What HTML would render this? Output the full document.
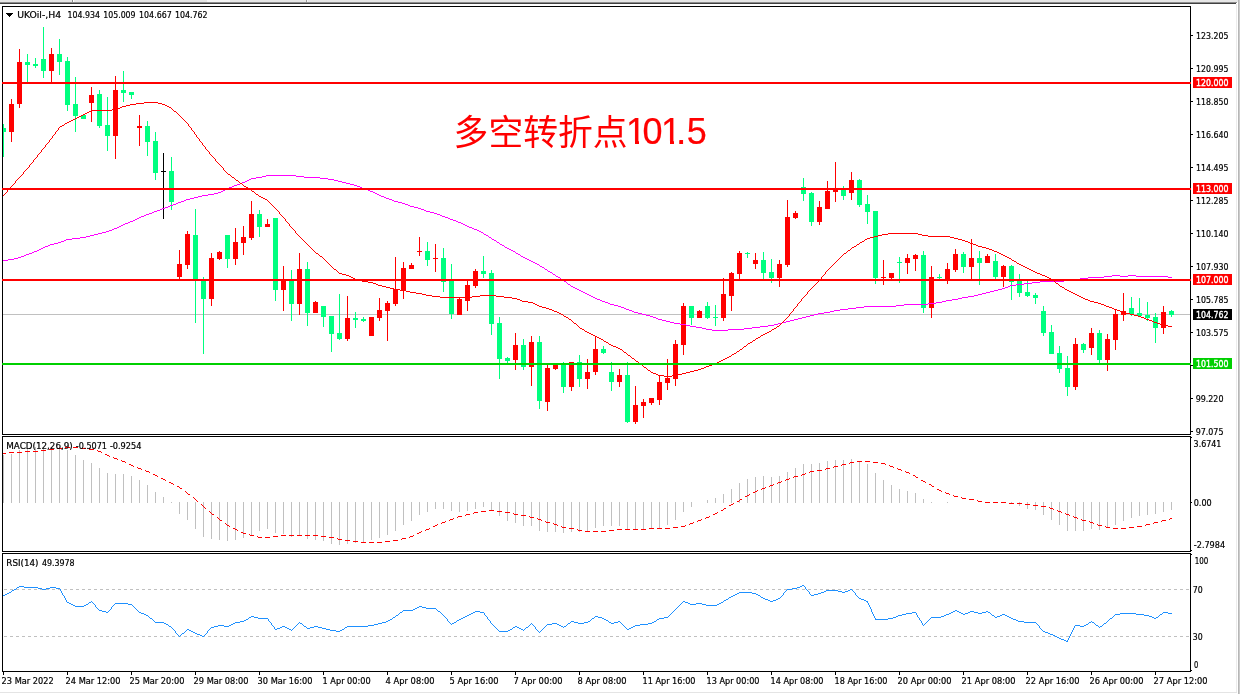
<!DOCTYPE html>
<html lang="zh"><head><meta charset="utf-8"><title>UKOil-,H4</title>
<style>
html,body{margin:0;padding:0;background:#fff;}
body{width:1240px;height:694px;overflow:hidden;position:relative;}
svg{position:absolute;left:0;top:0;display:block;}
text{font-family:"DejaVu Sans Condensed","DejaVu Sans","Liberation Sans",sans-serif;font-size:9px;fill:#000;stroke:#000;stroke-width:0.2px;}
text.t{stroke:none;font-family:"Liberation Sans","Noto Sans CJK SC",sans-serif;font-size:33.5px;fill:#ff0000;}
.w{fill:#fff;stroke:#fff;stroke-width:0.35px;}
</style></head><body>
<svg width="1240" height="694" viewBox="0 0 1240 694">
<rect x="0" y="0" width="1240" height="694" fill="#fff"/>
<g shape-rendering="crispEdges">
<rect x="0" y="0" width="1240" height="2" fill="#e6e6e6"/>
<rect x="0" y="2" width="1237" height="1" fill="#8c8c8c"/>
<rect x="0" y="3" width="1236" height="1" fill="#404040"/>
<rect x="72" y="0" width="1" height="2" fill="#8c8c8c"/><rect x="73" y="0" width="1" height="2" fill="#fff"/>
<rect x="306" y="0" width="1" height="2" fill="#9a9a9a"/><rect x="307" y="0" width="1" height="2" fill="#f4f4f4"/>
<rect x="207" y="0" width="23" height="2" fill="#f6f6f6"/>
<rect x="1236" y="4" width="1" height="688" fill="#ececec"/>
<rect x="1238" y="0" width="1" height="694" fill="#b6b6b6"/><rect x="1239" y="0" width="1" height="694" fill="#cccccc"/>
<rect x="0" y="692" width="1237" height="1" fill="#e4e4e4"/>
</g>
<g shape-rendering="crispEdges">
<rect x="3" y="314" width="1187" height="1" fill="#c0c0c0"/>
<rect x="3" y="124" width="1" height="33" fill="#00ff7f"/>
<rect x="3" y="128" width="3" height="4" fill="#00ff7f"/>
<rect x="11" y="99" width="1" height="43" fill="#ff0000"/>
<rect x="9" y="104" width="5" height="28" fill="#ff0000"/>
<rect x="19" y="49" width="1" height="59" fill="#ff0000"/>
<rect x="17" y="62" width="5" height="42" fill="#ff0000"/>
<rect x="27" y="54" width="1" height="29" fill="#00ff7f"/>
<rect x="25" y="62" width="5" height="3" fill="#00ff7f"/>
<rect x="35" y="58" width="1" height="10" fill="#00ff7f"/>
<rect x="33" y="64" width="5" height="2" fill="#00ff7f"/>
<rect x="43" y="27" width="1" height="51" fill="#00ff7f"/>
<rect x="41" y="59" width="5" height="12" fill="#00ff7f"/>
<rect x="51" y="48" width="1" height="35" fill="#ff0000"/>
<rect x="49" y="54" width="5" height="17" fill="#ff0000"/>
<rect x="59" y="39" width="1" height="36" fill="#00ff7f"/>
<rect x="57" y="54" width="5" height="8" fill="#00ff7f"/>
<rect x="67" y="57" width="1" height="54" fill="#00ff7f"/>
<rect x="65" y="61" width="5" height="44" fill="#00ff7f"/>
<rect x="75" y="77" width="1" height="55" fill="#00ff7f"/>
<rect x="73" y="104" width="5" height="12" fill="#00ff7f"/>
<rect x="83" y="115" width="1" height="4" fill="#00ff7f"/>
<rect x="81" y="115" width="5" height="4" fill="#00ff7f"/>
<rect x="91" y="87" width="1" height="35" fill="#ff0000"/>
<rect x="89" y="95" width="5" height="8" fill="#ff0000"/>
<rect x="99" y="90" width="1" height="38" fill="#00ff7f"/>
<rect x="97" y="94" width="5" height="32" fill="#00ff7f"/>
<rect x="107" y="97" width="1" height="54" fill="#00ff7f"/>
<rect x="105" y="125" width="5" height="11" fill="#00ff7f"/>
<rect x="115" y="76" width="1" height="83" fill="#ff0000"/>
<rect x="113" y="90" width="5" height="46" fill="#ff0000"/>
<rect x="123" y="71" width="1" height="31" fill="#00ff7f"/>
<rect x="121" y="90" width="5" height="3" fill="#00ff7f"/>
<rect x="131" y="92" width="1" height="7" fill="#00ff7f"/>
<rect x="129" y="92" width="5" height="3" fill="#00ff7f"/>
<rect x="139" y="115" width="1" height="31" fill="#ff0000"/>
<rect x="137" y="126" width="5" height="2" fill="#ff0000"/>
<rect x="147" y="121" width="1" height="35" fill="#00ff7f"/>
<rect x="145" y="126" width="5" height="16" fill="#00ff7f"/>
<rect x="155" y="132" width="1" height="48" fill="#00ff7f"/>
<rect x="153" y="141" width="5" height="32" fill="#00ff7f"/>
<rect x="163" y="153" width="1" height="66" fill="#000"/>
<rect x="161" y="171" width="5" height="1" fill="#000"/>
<rect x="171" y="157" width="1" height="53" fill="#00ff7f"/>
<rect x="169" y="171" width="5" height="31" fill="#00ff7f"/>
<rect x="179" y="250" width="1" height="30" fill="#ff0000"/>
<rect x="177" y="264" width="5" height="13" fill="#ff0000"/>
<rect x="187" y="231" width="1" height="38" fill="#ff0000"/>
<rect x="185" y="234" width="5" height="31" fill="#ff0000"/>
<rect x="195" y="209" width="1" height="114" fill="#00ff7f"/>
<rect x="193" y="235" width="5" height="45" fill="#00ff7f"/>
<rect x="203" y="277" width="1" height="77" fill="#00ff7f"/>
<rect x="201" y="281" width="5" height="18" fill="#00ff7f"/>
<rect x="211" y="253" width="1" height="53" fill="#ff0000"/>
<rect x="209" y="258" width="5" height="41" fill="#ff0000"/>
<rect x="219" y="251" width="1" height="9" fill="#ff0000"/>
<rect x="217" y="252" width="5" height="7" fill="#ff0000"/>
<rect x="227" y="235" width="1" height="33" fill="#00ff7f"/>
<rect x="225" y="235" width="5" height="24" fill="#00ff7f"/>
<rect x="235" y="228" width="1" height="37" fill="#ff0000"/>
<rect x="233" y="242" width="5" height="17" fill="#ff0000"/>
<rect x="243" y="226" width="1" height="29" fill="#ff0000"/>
<rect x="241" y="237" width="5" height="6" fill="#ff0000"/>
<rect x="251" y="201" width="1" height="39" fill="#ff0000"/>
<rect x="249" y="214" width="5" height="24" fill="#ff0000"/>
<rect x="259" y="210" width="1" height="27" fill="#00ff7f"/>
<rect x="257" y="214" width="5" height="13" fill="#00ff7f"/>
<rect x="267" y="219" width="1" height="8" fill="#ff0000"/>
<rect x="265" y="224" width="5" height="3" fill="#ff0000"/>
<rect x="275" y="218" width="1" height="83" fill="#00ff7f"/>
<rect x="273" y="218" width="5" height="72" fill="#00ff7f"/>
<rect x="283" y="266" width="1" height="45" fill="#ff0000"/>
<rect x="281" y="280" width="5" height="10" fill="#ff0000"/>
<rect x="291" y="270" width="1" height="51" fill="#00ff7f"/>
<rect x="289" y="281" width="5" height="23" fill="#00ff7f"/>
<rect x="299" y="253" width="1" height="62" fill="#ff0000"/>
<rect x="297" y="269" width="5" height="35" fill="#ff0000"/>
<rect x="307" y="262" width="1" height="64" fill="#00ff7f"/>
<rect x="305" y="269" width="5" height="44" fill="#00ff7f"/>
<rect x="315" y="301" width="1" height="12" fill="#ff0000"/>
<rect x="313" y="302" width="5" height="11" fill="#ff0000"/>
<rect x="323" y="306" width="1" height="21" fill="#00ff7f"/>
<rect x="321" y="306" width="5" height="11" fill="#00ff7f"/>
<rect x="331" y="316" width="1" height="36" fill="#00ff7f"/>
<rect x="329" y="316" width="5" height="18" fill="#00ff7f"/>
<rect x="339" y="294" width="1" height="46" fill="#00ff7f"/>
<rect x="337" y="333" width="5" height="6" fill="#00ff7f"/>
<rect x="347" y="296" width="1" height="45" fill="#ff0000"/>
<rect x="345" y="318" width="5" height="21" fill="#ff0000"/>
<rect x="355" y="312" width="1" height="16" fill="#00ff7f"/>
<rect x="353" y="318" width="5" height="2" fill="#00ff7f"/>
<rect x="363" y="317" width="1" height="5" fill="#00ff7f"/>
<rect x="361" y="319" width="5" height="2" fill="#00ff7f"/>
<rect x="371" y="317" width="1" height="19" fill="#ff0000"/>
<rect x="369" y="317" width="5" height="19" fill="#ff0000"/>
<rect x="379" y="298" width="1" height="23" fill="#ff0000"/>
<rect x="377" y="310" width="5" height="8" fill="#ff0000"/>
<rect x="387" y="301" width="1" height="40" fill="#ff0000"/>
<rect x="385" y="303" width="5" height="8" fill="#ff0000"/>
<rect x="395" y="257" width="1" height="49" fill="#ff0000"/>
<rect x="393" y="289" width="5" height="15" fill="#ff0000"/>
<rect x="403" y="262" width="1" height="37" fill="#ff0000"/>
<rect x="401" y="268" width="5" height="23" fill="#ff0000"/>
<rect x="411" y="263" width="1" height="6" fill="#ff0000"/>
<rect x="409" y="265" width="5" height="4" fill="#ff0000"/>
<rect x="419" y="237" width="1" height="19" fill="#ff0000"/>
<rect x="417" y="251" width="5" height="1" fill="#ff0000"/>
<rect x="427" y="242" width="1" height="24" fill="#00ff7f"/>
<rect x="425" y="251" width="5" height="9" fill="#00ff7f"/>
<rect x="435" y="244" width="1" height="28" fill="#ff0000"/>
<rect x="433" y="258" width="5" height="1" fill="#ff0000"/>
<rect x="443" y="248" width="1" height="44" fill="#00ff7f"/>
<rect x="441" y="258" width="5" height="24" fill="#00ff7f"/>
<rect x="451" y="264" width="1" height="55" fill="#00ff7f"/>
<rect x="449" y="280" width="5" height="34" fill="#00ff7f"/>
<rect x="459" y="298" width="1" height="17" fill="#ff0000"/>
<rect x="457" y="299" width="5" height="16" fill="#ff0000"/>
<rect x="467" y="281" width="1" height="30" fill="#ff0000"/>
<rect x="465" y="285" width="5" height="16" fill="#ff0000"/>
<rect x="475" y="269" width="1" height="19" fill="#ff0000"/>
<rect x="473" y="271" width="5" height="15" fill="#ff0000"/>
<rect x="483" y="256" width="1" height="22" fill="#00ff7f"/>
<rect x="481" y="271" width="5" height="3" fill="#00ff7f"/>
<rect x="491" y="270" width="1" height="65" fill="#00ff7f"/>
<rect x="489" y="273" width="5" height="51" fill="#00ff7f"/>
<rect x="499" y="317" width="1" height="62" fill="#00ff7f"/>
<rect x="497" y="323" width="5" height="36" fill="#00ff7f"/>
<rect x="507" y="357" width="1" height="6" fill="#00ff7f"/>
<rect x="505" y="358" width="5" height="3" fill="#00ff7f"/>
<rect x="515" y="333" width="1" height="37" fill="#ff0000"/>
<rect x="513" y="345" width="5" height="15" fill="#ff0000"/>
<rect x="523" y="339" width="1" height="31" fill="#00ff7f"/>
<rect x="521" y="345" width="5" height="22" fill="#00ff7f"/>
<rect x="531" y="336" width="1" height="50" fill="#ff0000"/>
<rect x="529" y="342" width="5" height="25" fill="#ff0000"/>
<rect x="539" y="336" width="1" height="73" fill="#00ff7f"/>
<rect x="537" y="342" width="5" height="59" fill="#00ff7f"/>
<rect x="547" y="365" width="1" height="46" fill="#ff0000"/>
<rect x="545" y="368" width="5" height="34" fill="#ff0000"/>
<rect x="555" y="363" width="1" height="7" fill="#ff0000"/>
<rect x="553" y="363" width="5" height="6" fill="#ff0000"/>
<rect x="563" y="362" width="1" height="31" fill="#00ff7f"/>
<rect x="561" y="363" width="5" height="24" fill="#00ff7f"/>
<rect x="571" y="362" width="1" height="29" fill="#ff0000"/>
<rect x="569" y="362" width="5" height="25" fill="#ff0000"/>
<rect x="579" y="355" width="1" height="32" fill="#00ff7f"/>
<rect x="577" y="362" width="5" height="17" fill="#00ff7f"/>
<rect x="587" y="359" width="1" height="30" fill="#ff0000"/>
<rect x="585" y="372" width="5" height="7" fill="#ff0000"/>
<rect x="595" y="336" width="1" height="39" fill="#ff0000"/>
<rect x="593" y="349" width="5" height="23" fill="#ff0000"/>
<rect x="603" y="346" width="1" height="8" fill="#00ff7f"/>
<rect x="601" y="349" width="5" height="4" fill="#00ff7f"/>
<rect x="611" y="362" width="1" height="29" fill="#00ff7f"/>
<rect x="609" y="372" width="5" height="10" fill="#00ff7f"/>
<rect x="619" y="369" width="1" height="18" fill="#ff0000"/>
<rect x="617" y="375" width="5" height="7" fill="#ff0000"/>
<rect x="627" y="362" width="1" height="61" fill="#00ff7f"/>
<rect x="625" y="375" width="5" height="47" fill="#00ff7f"/>
<rect x="635" y="386" width="1" height="38" fill="#ff0000"/>
<rect x="633" y="405" width="5" height="17" fill="#ff0000"/>
<rect x="643" y="399" width="1" height="19" fill="#ff0000"/>
<rect x="641" y="402" width="5" height="4" fill="#ff0000"/>
<rect x="651" y="398" width="1" height="7" fill="#ff0000"/>
<rect x="649" y="398" width="5" height="5" fill="#ff0000"/>
<rect x="659" y="375" width="1" height="30" fill="#ff0000"/>
<rect x="657" y="382" width="5" height="18" fill="#ff0000"/>
<rect x="667" y="359" width="1" height="31" fill="#ff0000"/>
<rect x="665" y="378" width="5" height="5" fill="#ff0000"/>
<rect x="675" y="340" width="1" height="46" fill="#ff0000"/>
<rect x="673" y="344" width="5" height="35" fill="#ff0000"/>
<rect x="683" y="303" width="1" height="52" fill="#ff0000"/>
<rect x="681" y="306" width="5" height="39" fill="#ff0000"/>
<rect x="691" y="306" width="1" height="19" fill="#00ff7f"/>
<rect x="689" y="306" width="5" height="12" fill="#00ff7f"/>
<rect x="699" y="310" width="1" height="8" fill="#ff0000"/>
<rect x="697" y="311" width="5" height="7" fill="#ff0000"/>
<rect x="707" y="302" width="1" height="17" fill="#00ff7f"/>
<rect x="705" y="306" width="5" height="12" fill="#00ff7f"/>
<rect x="715" y="305" width="1" height="21" fill="#00ff7f"/>
<rect x="713" y="317" width="5" height="1" fill="#00ff7f"/>
<rect x="723" y="278" width="1" height="43" fill="#ff0000"/>
<rect x="721" y="294" width="5" height="24" fill="#ff0000"/>
<rect x="731" y="272" width="1" height="39" fill="#ff0000"/>
<rect x="729" y="273" width="5" height="23" fill="#ff0000"/>
<rect x="739" y="251" width="1" height="28" fill="#ff0000"/>
<rect x="737" y="253" width="5" height="21" fill="#ff0000"/>
<rect x="747" y="252" width="1" height="6" fill="#00ff7f"/>
<rect x="745" y="253" width="5" height="1" fill="#00ff7f"/>
<rect x="755" y="253" width="1" height="16" fill="#ff0000"/>
<rect x="753" y="260" width="5" height="4" fill="#ff0000"/>
<rect x="763" y="252" width="1" height="27" fill="#00ff7f"/>
<rect x="761" y="260" width="5" height="13" fill="#00ff7f"/>
<rect x="771" y="259" width="1" height="24" fill="#00ff7f"/>
<rect x="769" y="272" width="5" height="6" fill="#00ff7f"/>
<rect x="779" y="260" width="1" height="27" fill="#ff0000"/>
<rect x="777" y="264" width="5" height="14" fill="#ff0000"/>
<rect x="787" y="200" width="1" height="67" fill="#ff0000"/>
<rect x="785" y="217" width="5" height="48" fill="#ff0000"/>
<rect x="795" y="211" width="1" height="8" fill="#ff0000"/>
<rect x="793" y="213" width="5" height="5" fill="#ff0000"/>
<rect x="803" y="178" width="1" height="23" fill="#00ff7f"/>
<rect x="801" y="187" width="5" height="7" fill="#00ff7f"/>
<rect x="811" y="192" width="1" height="34" fill="#00ff7f"/>
<rect x="809" y="193" width="5" height="29" fill="#00ff7f"/>
<rect x="819" y="201" width="1" height="24" fill="#ff0000"/>
<rect x="817" y="207" width="5" height="15" fill="#ff0000"/>
<rect x="827" y="181" width="1" height="28" fill="#ff0000"/>
<rect x="825" y="191" width="5" height="18" fill="#ff0000"/>
<rect x="835" y="162" width="1" height="40" fill="#ff0000"/>
<rect x="833" y="188" width="5" height="4" fill="#ff0000"/>
<rect x="843" y="186" width="1" height="14" fill="#00ff7f"/>
<rect x="841" y="190" width="5" height="6" fill="#00ff7f"/>
<rect x="851" y="172" width="1" height="28" fill="#ff0000"/>
<rect x="849" y="180" width="5" height="13" fill="#ff0000"/>
<rect x="859" y="179" width="1" height="28" fill="#00ff7f"/>
<rect x="857" y="180" width="5" height="25" fill="#00ff7f"/>
<rect x="867" y="195" width="1" height="29" fill="#00ff7f"/>
<rect x="865" y="204" width="5" height="8" fill="#00ff7f"/>
<rect x="875" y="211" width="1" height="73" fill="#00ff7f"/>
<rect x="873" y="211" width="5" height="67" fill="#00ff7f"/>
<rect x="883" y="260" width="1" height="25" fill="#ff0000"/>
<rect x="881" y="277" width="5" height="1" fill="#ff0000"/>
<rect x="891" y="273" width="1" height="7" fill="#ff0000"/>
<rect x="889" y="273" width="5" height="5" fill="#ff0000"/>
<rect x="899" y="257" width="1" height="26" fill="#00ff7f"/>
<rect x="897" y="262" width="5" height="1" fill="#00ff7f"/>
<rect x="907" y="254" width="1" height="20" fill="#ff0000"/>
<rect x="905" y="258" width="5" height="5" fill="#ff0000"/>
<rect x="915" y="254" width="1" height="17" fill="#ff0000"/>
<rect x="913" y="255" width="5" height="4" fill="#ff0000"/>
<rect x="923" y="251" width="1" height="62" fill="#00ff7f"/>
<rect x="921" y="255" width="5" height="53" fill="#00ff7f"/>
<rect x="931" y="266" width="1" height="52" fill="#ff0000"/>
<rect x="929" y="277" width="5" height="31" fill="#ff0000"/>
<rect x="939" y="274" width="1" height="6" fill="#00ff7f"/>
<rect x="937" y="277" width="5" height="1" fill="#00ff7f"/>
<rect x="947" y="263" width="1" height="21" fill="#ff0000"/>
<rect x="945" y="269" width="5" height="10" fill="#ff0000"/>
<rect x="955" y="249" width="1" height="23" fill="#ff0000"/>
<rect x="953" y="254" width="5" height="16" fill="#ff0000"/>
<rect x="963" y="252" width="1" height="21" fill="#00ff7f"/>
<rect x="961" y="254" width="5" height="13" fill="#00ff7f"/>
<rect x="971" y="239" width="1" height="40" fill="#ff0000"/>
<rect x="969" y="258" width="5" height="9" fill="#ff0000"/>
<rect x="979" y="251" width="1" height="34" fill="#00ff7f"/>
<rect x="977" y="258" width="5" height="5" fill="#00ff7f"/>
<rect x="987" y="254" width="1" height="9" fill="#ff0000"/>
<rect x="985" y="256" width="5" height="7" fill="#ff0000"/>
<rect x="995" y="254" width="1" height="25" fill="#00ff7f"/>
<rect x="993" y="261" width="5" height="16" fill="#00ff7f"/>
<rect x="1003" y="265" width="1" height="22" fill="#ff0000"/>
<rect x="1001" y="266" width="5" height="11" fill="#ff0000"/>
<rect x="1011" y="265" width="1" height="35" fill="#00ff7f"/>
<rect x="1009" y="266" width="5" height="16" fill="#00ff7f"/>
<rect x="1019" y="274" width="1" height="23" fill="#00ff7f"/>
<rect x="1017" y="280" width="5" height="13" fill="#00ff7f"/>
<rect x="1027" y="281" width="1" height="16" fill="#00ff7f"/>
<rect x="1025" y="292" width="5" height="4" fill="#00ff7f"/>
<rect x="1035" y="293" width="1" height="11" fill="#00ff7f"/>
<rect x="1033" y="295" width="5" height="3" fill="#00ff7f"/>
<rect x="1043" y="306" width="1" height="30" fill="#00ff7f"/>
<rect x="1041" y="311" width="5" height="22" fill="#00ff7f"/>
<rect x="1051" y="325" width="1" height="29" fill="#00ff7f"/>
<rect x="1049" y="332" width="5" height="22" fill="#00ff7f"/>
<rect x="1059" y="346" width="1" height="27" fill="#00ff7f"/>
<rect x="1057" y="353" width="5" height="16" fill="#00ff7f"/>
<rect x="1067" y="356" width="1" height="40" fill="#00ff7f"/>
<rect x="1065" y="368" width="5" height="19" fill="#00ff7f"/>
<rect x="1075" y="338" width="1" height="52" fill="#ff0000"/>
<rect x="1073" y="344" width="5" height="43" fill="#ff0000"/>
<rect x="1083" y="343" width="1" height="10" fill="#00ff7f"/>
<rect x="1081" y="344" width="5" height="6" fill="#00ff7f"/>
<rect x="1091" y="328" width="1" height="27" fill="#ff0000"/>
<rect x="1089" y="333" width="5" height="15" fill="#ff0000"/>
<rect x="1099" y="330" width="1" height="33" fill="#00ff7f"/>
<rect x="1097" y="333" width="5" height="27" fill="#00ff7f"/>
<rect x="1107" y="334" width="1" height="37" fill="#ff0000"/>
<rect x="1105" y="339" width="5" height="21" fill="#ff0000"/>
<rect x="1115" y="309" width="1" height="41" fill="#ff0000"/>
<rect x="1113" y="314" width="5" height="26" fill="#ff0000"/>
<rect x="1123" y="293" width="1" height="28" fill="#ff0000"/>
<rect x="1121" y="311" width="5" height="4" fill="#ff0000"/>
<rect x="1131" y="297" width="1" height="19" fill="#00ff7f"/>
<rect x="1129" y="308" width="5" height="6" fill="#00ff7f"/>
<rect x="1139" y="298" width="1" height="19" fill="#00ff7f"/>
<rect x="1137" y="313" width="5" height="3" fill="#00ff7f"/>
<rect x="1147" y="302" width="1" height="19" fill="#00ff7f"/>
<rect x="1145" y="315" width="5" height="3" fill="#00ff7f"/>
<rect x="1155" y="313" width="1" height="30" fill="#00ff7f"/>
<rect x="1153" y="317" width="5" height="11" fill="#00ff7f"/>
<rect x="1163" y="306" width="1" height="28" fill="#ff0000"/>
<rect x="1161" y="312" width="5" height="16" fill="#ff0000"/>
<rect x="1171" y="310" width="1" height="7" fill="#00ff7f"/>
<rect x="1169" y="311" width="5" height="4" fill="#00ff7f"/>
</g>
<g shape-rendering="crispEdges">
<path d="M266 175.5h30M262 176.5h4M296 176.5h8M256 177.5h6M304 177.5h16M251 178.5h5M320 178.5h8M249 179.5h2M328 179.5h6M247 180.5h2M334 180.5h4M245 181.5h2M338 181.5h4M242 182.5h3M342 182.5h4M240 183.5h2M346 183.5h4M237 184.5h3M350 184.5h4M234 185.5h3M354 185.5h3M232 186.5h2M357 186.5h3M229 187.5h3M360 187.5h2M227 188.5h2M362 188.5h3M225 189.5h2M365 189.5h3M223 190.5h2M368 190.5h2M221 191.5h2M370 191.5h3M218 192.5h3M373 192.5h2M214 193.5h4M375 193.5h2M208 194.5h6M377 194.5h2M202 195.5h6M379 195.5h2M198 196.5h4M381 196.5h3M194 197.5h4M384 197.5h2M190 198.5h4M386 198.5h3M186 199.5h4M389 199.5h3M184 200.5h2M392 200.5h2M181 201.5h3M394 201.5h4M178 202.5h3M398 202.5h4M176 203.5h2M402 203.5h3M173 204.5h3M405 204.5h3M170 205.5h3M408 205.5h2M168 206.5h2M410 206.5h4M165 207.5h3M414 207.5h4M162 208.5h3M418 208.5h3M160 209.5h2M421 209.5h3M157 210.5h3M424 210.5h2M154 211.5h3M426 211.5h4M152 212.5h2M430 212.5h4M149 213.5h3M434 213.5h3M146 214.5h3M437 214.5h3M144 215.5h2M440 215.5h2M141 216.5h3M442 216.5h3M139 217.5h2M445 217.5h3M137 218.5h2M448 218.5h2M135 219.5h2M450 219.5h3M133 220.5h2M453 220.5h3M130 221.5h3M456 221.5h2M128 222.5h2M458 222.5h3M125 223.5h3M461 223.5h2M123 224.5h2M463 224.5h2M121 225.5h2M465 225.5h2M119 226.5h2M467 226.5h2M117 227.5h2M469 227.5h3M114 228.5h3M472 228.5h2M112 229.5h2M474 229.5h3M109 230.5h3M477 230.5h2M106 231.5h3M479 231.5h2M102 232.5h4M481 232.5h2M98 233.5h4M483 233.5h1M94 234.5h4M484 234.5h2M90 235.5h4M486 235.5h2M86 236.5h4M488 236.5h1M80 237.5h6M489 237.5h2M72 238.5h8M491 238.5h1M66 239.5h6M492 239.5h2M64 240.5h2M494 240.5h2M61 241.5h3M496 241.5h1M58 242.5h3M497 242.5h2M54 243.5h4M499 243.5h1M50 244.5h4M500 244.5h2M48 245.5h2M502 245.5h2M45 246.5h3M504 246.5h1M43 247.5h2M505 247.5h2M41 248.5h2M507 248.5h2M39 249.5h2M509 249.5h2M37 250.5h2M511 250.5h2M34 251.5h3M513 251.5h2M32 252.5h2M515 252.5h1M29 253.5h3M516 253.5h2M26 254.5h3M518 254.5h2M24 255.5h2M520 255.5h1M21 256.5h3M521 256.5h2M18 257.5h3M523 257.5h2M14 258.5h4M525 258.5h2M8 259.5h6M527 259.5h2M3 260.5h5M529 260.5h2M531 261.5h2M533 262.5h2M535 263.5h2M537 264.5h2M539 265.5h1M540 266.5h2M542 267.5h2M544 268.5h1M545 269.5h2M547 270.5h1M548 271.5h2M550 272.5h2M552 273.5h1M553 274.5h2M555 275.5h1M1112 275.5h8M1128 275.5h8M556 276.5h2M1104 276.5h8M1120 276.5h8M1136 276.5h32M558 277.5h2M1088 277.5h16M1168 277.5h4M560 278.5h1M1080 278.5h8M561 279.5h2M1072 279.5h8M563 280.5h1M1064 280.5h8M564 281.5h2M1040 281.5h24M566 282.5h1M1032 282.5h8M567 283.5h1M1024 283.5h8M568 284.5h2M1016 284.5h8M570 285.5h1M1010 285.5h6M571 286.5h2M1008 286.5h2M573 287.5h2M1005 287.5h3M575 288.5h2M1002 288.5h3M577 289.5h2M998 289.5h4M579 290.5h2M994 290.5h4M581 291.5h2M990 291.5h4M583 292.5h2M986 292.5h4M585 293.5h2M982 293.5h4M587 294.5h2M978 294.5h4M589 295.5h2M974 295.5h4M591 296.5h2M968 296.5h6M593 297.5h2M962 297.5h6M595 298.5h2M958 298.5h4M597 299.5h3M952 299.5h6M600 300.5h2M946 300.5h6M602 301.5h3M942 301.5h4M605 302.5h3M936 302.5h6M608 303.5h2M928 303.5h8M610 304.5h4M904 304.5h24M614 305.5h4M896 305.5h8M618 306.5h3M864 306.5h32M621 307.5h3M856 307.5h8M624 308.5h2M848 308.5h8M626 309.5h3M840 309.5h8M629 310.5h3M834 310.5h6M632 311.5h2M830 311.5h4M634 312.5h4M824 312.5h6M638 313.5h4M818 313.5h6M642 314.5h4M814 314.5h4M646 315.5h4M810 315.5h4M650 316.5h3M806 316.5h4M653 317.5h3M802 317.5h4M656 318.5h2M798 318.5h4M658 319.5h4M794 319.5h4M662 320.5h4M790 320.5h4M666 321.5h4M786 321.5h4M670 322.5h4M782 322.5h4M674 323.5h6M778 323.5h4M680 324.5h6M774 324.5h4M686 325.5h4M768 325.5h6M690 326.5h6M760 326.5h8M696 327.5h6M752 327.5h8M702 328.5h4M744 328.5h8M706 329.5h6M728 329.5h16M712 330.5h16" fill="none" stroke="#ff00ff" stroke-width="1"/>
<path d="M144 102.5h14M136 103.5h8M158 103.5h4M130 104.5h6M162 104.5h3M126 105.5h4M165 105.5h2M122 106.5h4M167 106.5h2M120 107.5h2M169 107.5h2M117 108.5h3M171 108.5h1M112 109.5h5M172 109.5h1M91 110.5h21M173 110.5h1M89 111.5h2M174 111.5h2M87 112.5h2M176 112.5h1M85 113.5h2M177 113.5h1M83 114.5h2M178 114.5h1M81 115.5h2M179 115.5h1M79 116.5h2M180 116.5h1M77 117.5h2M181 117.5h1M75 118.5h2M182 118.5h1M73 119.5h2M183 119.5h1M71 120.5h2M184 120.5h1M69 121.5h2M185 121.5h1M67 122.5h2M186 122.5h1M65 123.5h2M187 123.5h1M64 124.5h1M188.5 124v2M62 125.5h2M60 126.5h2M189 126.5h1M59 127.5h1M190 127.5h1M58.5 128v2M191.5 128v2M57 130.5h1M192 130.5h1M56 131.5h1M193 131.5h1M55.5 132v2M194.5 132v2M54 134.5h1M195 134.5h1M53 135.5h1M196.5 135v2M52.5 136v2M197 137.5h1M51 138.5h1M198 138.5h1M50 139.5h1M199.5 139v2M49.5 140v2M200 141.5h1M48 142.5h1M201 142.5h1M47 143.5h1M202.5 143v2M46 144.5h1M45.5 145v2M203 145.5h1M204 146.5h1M44 147.5h1M205.5 147v2M43 148.5h1M42 149.5h1M206 149.5h1M41.5 150v2M207 150.5h1M208 151.5h1M40 152.5h1M209.5 152v2M39 153.5h1M38 154.5h1M210 154.5h1M37.5 155v2M211 155.5h1M212 156.5h1M36 157.5h1M213 157.5h1M35 158.5h1M214 158.5h1M34 159.5h1M215.5 159v2M33.5 160v2M216 161.5h1M32 162.5h1M217 162.5h1M31 163.5h1M218 163.5h1M30 164.5h1M219 164.5h1M29.5 165v2M220 165.5h1M221 166.5h1M28 167.5h1M222 167.5h1M27 168.5h1M223.5 168v2M26 169.5h1M25 170.5h1M224 170.5h1M24 171.5h1M225 171.5h1M23.5 172v2M226 172.5h1M227 173.5h1M22 174.5h1M228 174.5h2M21 175.5h1M230 175.5h1M20 176.5h1M231 176.5h1M19 177.5h1M232 177.5h2M18 178.5h1M234 178.5h1M17 179.5h1M235 179.5h1M16 180.5h1M236 180.5h2M15.5 181v2M238 181.5h1M239 182.5h1M14 183.5h1M240 183.5h2M13 184.5h1M242 184.5h1M12 185.5h1M243 185.5h1M11 186.5h1M244 186.5h2M10 187.5h1M246 187.5h2M9 188.5h1M248 188.5h1M8 189.5h1M249 189.5h2M7.5 190v2M251 190.5h1M252 191.5h2M6 192.5h1M254 192.5h1M5 193.5h1M255 193.5h1M4 194.5h1M256 194.5h2M3 195.5h1M258 195.5h1M259 196.5h2M261 197.5h2M263 198.5h2M265 199.5h2M267 200.5h1M268 201.5h1M269 202.5h1M270 203.5h1M271 204.5h1M272 205.5h1M273 206.5h1M274 207.5h1M275 208.5h1M276 209.5h1M277 210.5h1M278 211.5h1M279.5 212v2M280 214.5h1M281 215.5h1M282 216.5h1M283 217.5h1M284 218.5h1M285.5 219v2M286 221.5h1M287 222.5h1M288 223.5h1M289.5 224v2M290 226.5h1M291 227.5h1M292 228.5h1M293 229.5h1M294 230.5h1M295.5 231v2M296 233.5h1M888 233.5h30M297 234.5h1M882 234.5h6M918 234.5h4M298 235.5h1M878 235.5h4M922 235.5h6M299 236.5h1M874 236.5h4M928 236.5h22M300 237.5h1M870 237.5h4M950 237.5h4M301 238.5h1M867 238.5h3M954 238.5h4M302 239.5h1M865 239.5h2M958 239.5h4M303 240.5h1M864 240.5h1M962 240.5h3M304 241.5h1M862 241.5h2M965 241.5h3M305 242.5h1M860 242.5h2M968 242.5h2M306 243.5h1M859 243.5h1M970 243.5h3M307 244.5h1M857 244.5h2M973 244.5h3M308 245.5h1M856 245.5h1M976 245.5h2M309 246.5h1M854 246.5h2M978 246.5h4M310 247.5h1M852 247.5h2M982 247.5h4M311 248.5h1M851 248.5h1M986 248.5h3M312 249.5h1M850 249.5h1M989 249.5h3M313 250.5h1M848 250.5h2M992 250.5h2M314 251.5h1M847 251.5h1M994 251.5h3M315 252.5h1M846 252.5h1M997 252.5h2M316 253.5h2M844 253.5h2M999 253.5h2M318 254.5h1M843 254.5h1M1001 254.5h2M319 255.5h1M842 255.5h1M1003 255.5h2M320 256.5h2M841 256.5h1M1005 256.5h2M322 257.5h1M840 257.5h1M1007 257.5h2M323 258.5h1M839 258.5h1M1009 258.5h2M324 259.5h1M838 259.5h1M1011 259.5h1M325 260.5h1M837 260.5h1M1012 260.5h2M326 261.5h1M836 261.5h1M1014 261.5h2M327 262.5h1M835 262.5h1M1016 262.5h1M328 263.5h1M834 263.5h1M1017 263.5h2M329 264.5h1M833 264.5h1M1019 264.5h2M330 265.5h1M832 265.5h1M1021 265.5h2M331 266.5h1M831 266.5h1M1023 266.5h2M332 267.5h1M830 267.5h1M1025 267.5h2M333 268.5h1M829 268.5h1M1027 268.5h2M334 269.5h2M828 269.5h1M1029 269.5h2M336 270.5h1M827 270.5h1M1031 270.5h2M337 271.5h1M826 271.5h1M1033 271.5h2M338 272.5h1M825.5 272v2M1035 272.5h2M339 273.5h3M1037 273.5h3M342 274.5h4M824 274.5h1M1040 274.5h2M346 275.5h3M823 275.5h1M1042 275.5h3M349 276.5h2M822 276.5h1M1045 276.5h2M351 277.5h2M821.5 277v2M1047 277.5h2M353 278.5h2M1049 278.5h2M355 279.5h3M820 279.5h1M1051 279.5h1M358 280.5h4M819 280.5h1M1052 280.5h2M362 281.5h6M818 281.5h1M1054 281.5h1M368 282.5h5M817 282.5h1M1055 282.5h1M373 283.5h3M816 283.5h1M1056 283.5h2M376 284.5h2M815 284.5h1M1058 284.5h1M378 285.5h4M814 285.5h1M1059 285.5h1M382 286.5h4M813 286.5h1M1060 286.5h2M386 287.5h4M812 287.5h1M1062 287.5h2M390 288.5h4M811 288.5h1M1064 288.5h1M394 289.5h6M810 289.5h1M1065 289.5h2M400 290.5h6M809 290.5h1M1067 290.5h2M406 291.5h4M808 291.5h1M1069 291.5h2M410 292.5h6M807.5 292v2M1071 292.5h2M416 293.5h6M1073 293.5h2M422 294.5h4M806 294.5h1M1075 294.5h2M426 295.5h6M480 295.5h16M805 295.5h1M1077 295.5h2M432 296.5h8M472 296.5h8M496 296.5h8M804 296.5h1M1079 296.5h2M440 297.5h32M504 297.5h8M803 297.5h1M1081 297.5h2M512 298.5h5M802 298.5h1M1083 298.5h2M517 299.5h3M801.5 299v2M1085 299.5h3M520 300.5h2M1088 300.5h2M522 301.5h6M800 301.5h1M1090 301.5h4M528 302.5h5M799 302.5h1M1094 302.5h4M533 303.5h2M798 303.5h1M1098 303.5h3M535 304.5h2M797.5 304v2M1101 304.5h3M537 305.5h2M1104 305.5h2M539 306.5h3M796 306.5h1M1106 306.5h3M542 307.5h4M795 307.5h1M1109 307.5h3M546 308.5h3M794 308.5h1M1112 308.5h2M549 309.5h3M793.5 309v2M1114 309.5h3M552 310.5h2M1117 310.5h3M554 311.5h3M792 311.5h1M1120 311.5h2M557 312.5h2M791 312.5h1M1122 312.5h4M559 313.5h2M790 313.5h1M1126 313.5h4M561 314.5h2M789.5 314v2M1130 314.5h4M563 315.5h1M1134 315.5h4M564 316.5h2M788 316.5h1M1138 316.5h3M566 317.5h2M787 317.5h1M1141 317.5h3M568 318.5h1M786 318.5h1M1144 318.5h2M569 319.5h2M785 319.5h1M1146 319.5h3M571 320.5h1M784 320.5h1M1149 320.5h3M572 321.5h1M783 321.5h1M1152 321.5h2M573 322.5h1M782 322.5h1M1154 322.5h3M574 323.5h2M781 323.5h1M1157 323.5h3M576 324.5h1M780 324.5h1M1160 324.5h2M577 325.5h1M779 325.5h1M1162 325.5h6M578 326.5h1M777 326.5h2M1168 326.5h4M579 327.5h1M776 327.5h1M580 328.5h2M774 328.5h2M582 329.5h2M772 329.5h2M584 330.5h1M771 330.5h1M585 331.5h2M769 331.5h2M587 332.5h2M767 332.5h2M589 333.5h2M765 333.5h2M591 334.5h2M763 334.5h2M593 335.5h2M761 335.5h2M595 336.5h2M760 336.5h1M597 337.5h2M758 337.5h2M599 338.5h2M756 338.5h2M601 339.5h2M755 339.5h1M603 340.5h1M753 340.5h2M604 341.5h2M752 341.5h1M606 342.5h2M750 342.5h2M608 343.5h1M748 343.5h2M609 344.5h2M747 344.5h1M611 345.5h2M746 345.5h1M613 346.5h3M744 346.5h2M616 347.5h2M743 347.5h1M618 348.5h2M742 348.5h1M620 349.5h2M740 349.5h2M622 350.5h1M739 350.5h1M623 351.5h1M737 351.5h2M624 352.5h2M736 352.5h1M626 353.5h1M734 353.5h2M627 354.5h1M732 354.5h2M628 355.5h2M731 355.5h1M630 356.5h1M729 356.5h2M631 357.5h1M727 357.5h2M632 358.5h2M725 358.5h2M634 359.5h1M723 359.5h2M635 360.5h1M721 360.5h2M636 361.5h2M719 361.5h2M638 362.5h1M717 362.5h2M639 363.5h1M714 363.5h3M640 364.5h2M712 364.5h2M642 365.5h1M709 365.5h3M643 366.5h1M706 366.5h3M644 367.5h2M704 367.5h2M646 368.5h1M701 368.5h3M647 369.5h1M698 369.5h3M648 370.5h2M694 370.5h4M650 371.5h1M690 371.5h4M651 372.5h2M686 372.5h4M653 373.5h3M682 373.5h4M656 374.5h2M678 374.5h4M658 375.5h6M672 375.5h6M664 376.5h8" fill="none" stroke="#ff0000" stroke-width="1"/>
</g>
<g shape-rendering="crispEdges">
<rect x="3" y="455" width="1" height="48" fill="#c0c0c0"/>
<rect x="11" y="454" width="1" height="49" fill="#c0c0c0"/>
<rect x="19" y="450" width="1" height="53" fill="#c0c0c0"/>
<rect x="27" y="448" width="1" height="55" fill="#c0c0c0"/>
<rect x="35" y="447" width="1" height="56" fill="#c0c0c0"/>
<rect x="43" y="447" width="1" height="56" fill="#c0c0c0"/>
<rect x="51" y="447" width="1" height="56" fill="#c0c0c0"/>
<rect x="59" y="448" width="1" height="55" fill="#c0c0c0"/>
<rect x="67" y="450" width="1" height="53" fill="#c0c0c0"/>
<rect x="75" y="455" width="1" height="48" fill="#c0c0c0"/>
<rect x="83" y="460" width="1" height="43" fill="#c0c0c0"/>
<rect x="91" y="463" width="1" height="40" fill="#c0c0c0"/>
<rect x="99" y="468" width="1" height="35" fill="#c0c0c0"/>
<rect x="107" y="473" width="1" height="30" fill="#c0c0c0"/>
<rect x="115" y="474" width="1" height="29" fill="#c0c0c0"/>
<rect x="123" y="474" width="1" height="29" fill="#c0c0c0"/>
<rect x="131" y="476" width="1" height="27" fill="#c0c0c0"/>
<rect x="139" y="480" width="1" height="23" fill="#c0c0c0"/>
<rect x="147" y="485" width="1" height="18" fill="#c0c0c0"/>
<rect x="155" y="492" width="1" height="11" fill="#c0c0c0"/>
<rect x="163" y="497" width="1" height="6" fill="#c0c0c0"/>
<rect x="171" y="502" width="1" height="1" fill="#c0c0c0"/>
<rect x="179" y="502" width="1" height="12" fill="#c0c0c0"/>
<rect x="187" y="502" width="1" height="18" fill="#c0c0c0"/>
<rect x="195" y="502" width="1" height="27" fill="#c0c0c0"/>
<rect x="203" y="502" width="1" height="35" fill="#c0c0c0"/>
<rect x="211" y="502" width="1" height="37" fill="#c0c0c0"/>
<rect x="219" y="502" width="1" height="38" fill="#c0c0c0"/>
<rect x="227" y="502" width="1" height="39" fill="#c0c0c0"/>
<rect x="235" y="502" width="1" height="38" fill="#c0c0c0"/>
<rect x="243" y="502" width="1" height="36" fill="#c0c0c0"/>
<rect x="251" y="502" width="1" height="33" fill="#c0c0c0"/>
<rect x="259" y="502" width="1" height="29" fill="#c0c0c0"/>
<rect x="267" y="502" width="1" height="27" fill="#c0c0c0"/>
<rect x="275" y="502" width="1" height="31" fill="#c0c0c0"/>
<rect x="283" y="502" width="1" height="32" fill="#c0c0c0"/>
<rect x="291" y="502" width="1" height="35" fill="#c0c0c0"/>
<rect x="299" y="502" width="1" height="34" fill="#c0c0c0"/>
<rect x="307" y="502" width="1" height="37" fill="#c0c0c0"/>
<rect x="315" y="502" width="1" height="38" fill="#c0c0c0"/>
<rect x="323" y="502" width="1" height="39" fill="#c0c0c0"/>
<rect x="331" y="502" width="1" height="42" fill="#c0c0c0"/>
<rect x="339" y="502" width="1" height="43" fill="#c0c0c0"/>
<rect x="347" y="502" width="1" height="42" fill="#c0c0c0"/>
<rect x="355" y="502" width="1" height="41" fill="#c0c0c0"/>
<rect x="363" y="502" width="1" height="40" fill="#c0c0c0"/>
<rect x="371" y="502" width="1" height="38" fill="#c0c0c0"/>
<rect x="379" y="502" width="1" height="36" fill="#c0c0c0"/>
<rect x="387" y="502" width="1" height="33" fill="#c0c0c0"/>
<rect x="395" y="502" width="1" height="29" fill="#c0c0c0"/>
<rect x="403" y="502" width="1" height="23" fill="#c0c0c0"/>
<rect x="411" y="502" width="1" height="19" fill="#c0c0c0"/>
<rect x="419" y="502" width="1" height="13" fill="#c0c0c0"/>
<rect x="427" y="502" width="1" height="10" fill="#c0c0c0"/>
<rect x="435" y="502" width="1" height="7" fill="#c0c0c0"/>
<rect x="443" y="502" width="1" height="7" fill="#c0c0c0"/>
<rect x="451" y="502" width="1" height="9" fill="#c0c0c0"/>
<rect x="459" y="502" width="1" height="10" fill="#c0c0c0"/>
<rect x="467" y="502" width="1" height="9" fill="#c0c0c0"/>
<rect x="475" y="502" width="1" height="7" fill="#c0c0c0"/>
<rect x="483" y="502" width="1" height="5" fill="#c0c0c0"/>
<rect x="491" y="502" width="1" height="8" fill="#c0c0c0"/>
<rect x="499" y="502" width="1" height="14" fill="#c0c0c0"/>
<rect x="507" y="502" width="1" height="19" fill="#c0c0c0"/>
<rect x="515" y="502" width="1" height="21" fill="#c0c0c0"/>
<rect x="523" y="502" width="1" height="24" fill="#c0c0c0"/>
<rect x="531" y="502" width="1" height="24" fill="#c0c0c0"/>
<rect x="539" y="502" width="1" height="29" fill="#c0c0c0"/>
<rect x="547" y="502" width="1" height="30" fill="#c0c0c0"/>
<rect x="555" y="502" width="1" height="30" fill="#c0c0c0"/>
<rect x="563" y="502" width="1" height="31" fill="#c0c0c0"/>
<rect x="571" y="502" width="1" height="30" fill="#c0c0c0"/>
<rect x="579" y="502" width="1" height="30" fill="#c0c0c0"/>
<rect x="587" y="502" width="1" height="30" fill="#c0c0c0"/>
<rect x="595" y="502" width="1" height="26" fill="#c0c0c0"/>
<rect x="603" y="502" width="1" height="24" fill="#c0c0c0"/>
<rect x="611" y="502" width="1" height="24" fill="#c0c0c0"/>
<rect x="619" y="502" width="1" height="24" fill="#c0c0c0"/>
<rect x="627" y="502" width="1" height="27" fill="#c0c0c0"/>
<rect x="635" y="502" width="1" height="27" fill="#c0c0c0"/>
<rect x="643" y="502" width="1" height="28" fill="#c0c0c0"/>
<rect x="651" y="502" width="1" height="27" fill="#c0c0c0"/>
<rect x="659" y="502" width="1" height="27" fill="#c0c0c0"/>
<rect x="667" y="502" width="1" height="23" fill="#c0c0c0"/>
<rect x="675" y="502" width="1" height="18" fill="#c0c0c0"/>
<rect x="683" y="502" width="1" height="10" fill="#c0c0c0"/>
<rect x="691" y="502" width="1" height="5" fill="#c0c0c0"/>
<rect x="707" y="500" width="1" height="3" fill="#c0c0c0"/>
<rect x="715" y="498" width="1" height="5" fill="#c0c0c0"/>
<rect x="723" y="494" width="1" height="9" fill="#c0c0c0"/>
<rect x="731" y="489" width="1" height="14" fill="#c0c0c0"/>
<rect x="739" y="483" width="1" height="20" fill="#c0c0c0"/>
<rect x="747" y="479" width="1" height="24" fill="#c0c0c0"/>
<rect x="755" y="477" width="1" height="26" fill="#c0c0c0"/>
<rect x="763" y="476" width="1" height="27" fill="#c0c0c0"/>
<rect x="771" y="477" width="1" height="26" fill="#c0c0c0"/>
<rect x="779" y="476" width="1" height="27" fill="#c0c0c0"/>
<rect x="787" y="472" width="1" height="31" fill="#c0c0c0"/>
<rect x="795" y="468" width="1" height="35" fill="#c0c0c0"/>
<rect x="803" y="464" width="1" height="39" fill="#c0c0c0"/>
<rect x="811" y="464" width="1" height="39" fill="#c0c0c0"/>
<rect x="819" y="463" width="1" height="40" fill="#c0c0c0"/>
<rect x="827" y="461" width="1" height="42" fill="#c0c0c0"/>
<rect x="835" y="460" width="1" height="43" fill="#c0c0c0"/>
<rect x="843" y="460" width="1" height="43" fill="#c0c0c0"/>
<rect x="851" y="459" width="1" height="44" fill="#c0c0c0"/>
<rect x="859" y="461" width="1" height="42" fill="#c0c0c0"/>
<rect x="867" y="464" width="1" height="39" fill="#c0c0c0"/>
<rect x="875" y="473" width="1" height="30" fill="#c0c0c0"/>
<rect x="883" y="480" width="1" height="23" fill="#c0c0c0"/>
<rect x="891" y="485" width="1" height="18" fill="#c0c0c0"/>
<rect x="899" y="489" width="1" height="14" fill="#c0c0c0"/>
<rect x="907" y="491" width="1" height="12" fill="#c0c0c0"/>
<rect x="915" y="493" width="1" height="10" fill="#c0c0c0"/>
<rect x="923" y="499" width="1" height="4" fill="#c0c0c0"/>
<rect x="931" y="502" width="1" height="1" fill="#c0c0c0"/>
<rect x="947" y="502" width="1" height="1" fill="#c0c0c0"/>
<rect x="1011" y="502" width="1" height="2" fill="#c0c0c0"/>
<rect x="1019" y="502" width="1" height="4" fill="#c0c0c0"/>
<rect x="1027" y="502" width="1" height="7" fill="#c0c0c0"/>
<rect x="1035" y="502" width="1" height="8" fill="#c0c0c0"/>
<rect x="1043" y="502" width="1" height="13" fill="#c0c0c0"/>
<rect x="1051" y="502" width="1" height="18" fill="#c0c0c0"/>
<rect x="1059" y="502" width="1" height="23" fill="#c0c0c0"/>
<rect x="1067" y="502" width="1" height="29" fill="#c0c0c0"/>
<rect x="1075" y="502" width="1" height="29" fill="#c0c0c0"/>
<rect x="1083" y="502" width="1" height="29" fill="#c0c0c0"/>
<rect x="1091" y="502" width="1" height="27" fill="#c0c0c0"/>
<rect x="1099" y="502" width="1" height="28" fill="#c0c0c0"/>
<rect x="1107" y="502" width="1" height="26" fill="#c0c0c0"/>
<rect x="1115" y="502" width="1" height="23" fill="#c0c0c0"/>
<rect x="1123" y="502" width="1" height="19" fill="#c0c0c0"/>
<rect x="1131" y="502" width="1" height="16" fill="#c0c0c0"/>
<rect x="1139" y="502" width="1" height="14" fill="#c0c0c0"/>
<rect x="1147" y="502" width="1" height="13" fill="#c0c0c0"/>
<rect x="1155" y="502" width="1" height="12" fill="#c0c0c0"/>
<rect x="1163" y="502" width="1" height="10" fill="#c0c0c0"/>
<rect x="1171" y="502" width="1" height="8" fill="#c0c0c0"/>
<path d="M65 447.5h5M73 447.5h5M57 448.5h5M81 448.5h5M49 449.5h5M89 449.5h5M41 450.5h5M97 450.5h1M25 451.5h5M33 451.5h5M98 451.5h3M9 452.5h5M17 452.5h5M101 452.5h1M3 453.5h3M105 454.5h2M107 455.5h2M109 456.5h1M113 457.5h1M114 458.5h3M117 459.5h1M121 460.5h1M122 461.5h3M857 461.5h5M865 461.5h5M125 462.5h1M850 462.5h4M873 462.5h5M849 463.5h1M881 463.5h4M129 464.5h2M842 464.5h4M885 464.5h1M131 465.5h2M841 465.5h1M889 465.5h1M133 466.5h1M834 466.5h4M890 466.5h3M137 467.5h1M833 467.5h1M893 467.5h1M138 468.5h3M826 468.5h4M897 468.5h1M141 469.5h1M825 469.5h1M898 469.5h3M145 470.5h1M817 470.5h5M901 470.5h1M146 471.5h3M810 471.5h4M905 471.5h1M149 472.5h1M809 472.5h1M906 472.5h3M805 473.5h1M909 473.5h1M153 474.5h2M802 474.5h3M155 475.5h2M801 475.5h1M913 475.5h2M157 476.5h1M794 476.5h4M915 476.5h1M793 477.5h1M916 477.5h2M161 478.5h2M789 478.5h1M163 479.5h2M786 479.5h3M165 480.5h1M785 480.5h1M921 480.5h2M781 481.5h1M923 481.5h2M169 482.5h2M778 482.5h3M925 482.5h1M171 483.5h2M777 483.5h1M173 484.5h1M773 484.5h1M929 484.5h2M770 485.5h3M931 485.5h1M177 486.5h2M769 486.5h1M932 486.5h2M179 487.5h1M765 487.5h1M180 488.5h2M762 488.5h3M761 489.5h1M937 489.5h2M757 490.5h1M939 490.5h2M185 491.5h1M755 491.5h2M941 491.5h1M186 492.5h1M753 492.5h2M945 492.5h1M187 493.5h1M946 493.5h3M188 494.5h2M749 494.5h1M949 494.5h1M747 495.5h2M953 495.5h1M745 496.5h2M954 496.5h4M193 497.5h1M961 497.5h1M194 498.5h1M962 498.5h4M195 499.5h1M740 499.5h2M969 499.5h5M196 500.5h1M739 500.5h1M977 500.5h1M197 501.5h1M737 501.5h2M978 501.5h4M985 502.5h5M993 502.5h5M1001 502.5h5M733 503.5h1M1009 503.5h5M1017 503.5h5M201 504.5h1M731 504.5h2M1025 504.5h5M202 505.5h1M729 505.5h2M1033 505.5h5M203 506.5h1M1041 506.5h5M204 507.5h1M1049 507.5h1M205 508.5h1M724 508.5h2M1050 508.5h3M723 509.5h1M1053 509.5h1M489 510.5h5M721 510.5h2M1057 510.5h1M209 511.5h1M481 511.5h5M497 511.5h5M1058 511.5h3M210 512.5h1M474 512.5h4M505 512.5h5M717 512.5h1M1061 512.5h1M211 513.5h1M473 513.5h1M513 513.5h1M715 513.5h2M1065 513.5h1M212 514.5h2M466 514.5h4M514 514.5h4M713 514.5h2M1066 514.5h3M465 515.5h1M521 515.5h5M1069 515.5h1M458 516.5h4M529 516.5h1M709 516.5h1M1073 516.5h1M217 517.5h1M457 517.5h1M530 517.5h4M706 517.5h3M1074 517.5h3M218 518.5h1M453 518.5h1M537 518.5h1M705 518.5h1M1077 518.5h1M1170 518.5h2M219 519.5h1M450 519.5h3M538 519.5h3M701 519.5h1M1081 519.5h1M1169 519.5h1M220 520.5h2M449 520.5h1M541 520.5h1M698 520.5h3M1082 520.5h4M1162 520.5h4M445 521.5h1M545 521.5h1M697 521.5h1M1089 521.5h1M1161 521.5h1M442 522.5h3M546 522.5h4M693 522.5h1M1090 522.5h3M1154 522.5h4M225 523.5h1M441 523.5h1M553 523.5h1M690 523.5h3M1093 523.5h1M1153 523.5h1M226 524.5h1M437 524.5h1M554 524.5h3M689 524.5h1M1097 524.5h1M1146 524.5h4M227 525.5h2M435 525.5h2M557 525.5h1M685 525.5h1M1098 525.5h4M1145 525.5h1M229 526.5h1M433 526.5h2M561 526.5h1M681 526.5h4M1105 526.5h1M1137 526.5h5M562 527.5h4M673 527.5h5M1106 527.5h4M1129 527.5h5M233 528.5h2M429 528.5h1M569 528.5h5M649 528.5h5M657 528.5h5M665 528.5h5M1113 528.5h5M1121 528.5h5M235 529.5h2M426 529.5h3M577 529.5h1M617 529.5h5M625 529.5h5M633 529.5h5M641 529.5h5M237 530.5h1M425 530.5h1M578 530.5h4M609 530.5h5M421 531.5h1M585 531.5h5M593 531.5h5M601 531.5h5M241 532.5h2M419 532.5h2M243 533.5h3M417 533.5h2M249 534.5h1M250 535.5h4M281 535.5h5M289 535.5h5M297 535.5h5M305 535.5h5M313 535.5h5M413 535.5h1M257 536.5h1M273 536.5h5M321 536.5h5M410 536.5h3M258 537.5h4M265 537.5h5M329 537.5h5M409 537.5h1M337 538.5h1M402 538.5h4M338 539.5h4M401 539.5h1M345 540.5h5M393 540.5h5M353 541.5h5M385 541.5h5M361 542.5h5M369 542.5h5M377 542.5h5" fill="none" stroke="#ff0000" stroke-width="1"/>
</g>
<g shape-rendering="crispEdges">
<line x1="4" y1="589.5" x2="1190" y2="589.5" stroke="#c0c0c0" stroke-width="1" stroke-dasharray="3 3"/>
<line x1="4" y1="636.5" x2="1190" y2="636.5" stroke="#c0c0c0" stroke-width="1" stroke-dasharray="3 3"/>
<path d="M802 585.5h2M19 586.5h5M800 586.5h2M804 586.5h1M17 587.5h2M24 587.5h14M50 587.5h6M797 587.5h3M805.5 587v2M16 588.5h1M38 588.5h4M46 588.5h4M56 588.5h4M792 588.5h5M14 589.5h2M42 589.5h4M60.5 589v2M787 589.5h5M806 589.5h1M850 589.5h2M12 590.5h2M786 590.5h1M807 590.5h1M826 590.5h12M848 590.5h2M852 590.5h1M11 591.5h1M61.5 591v2M785 591.5h1M808 591.5h1M824 591.5h2M838 591.5h4M845 591.5h3M853 591.5h1M9 592.5h2M739 592.5h13M784 592.5h1M809.5 592v2M821 592.5h3M842 592.5h3M854 592.5h1M7 593.5h2M62.5 593v2M737 593.5h2M752 593.5h4M783.5 593v2M818 593.5h3M855.5 593v2M5 594.5h2M735 594.5h2M756 594.5h2M810 594.5h1M814 594.5h4M3 595.5h2M63 595.5h1M733 595.5h2M758 595.5h2M782 595.5h1M811 595.5h3M856 595.5h1M64.5 596v2M731 596.5h2M760 596.5h1M781 596.5h1M857 596.5h1M729 597.5h2M761 597.5h2M780 597.5h1M858 597.5h1M65.5 598v2M728 598.5h1M763 598.5h2M778 598.5h2M859 598.5h2M726 599.5h2M765 599.5h3M776 599.5h2M861 599.5h3M66.5 600v2M724 600.5h2M768 600.5h2M773 600.5h3M864 600.5h2M91 601.5h1M683 601.5h2M723 601.5h1M770 601.5h3M866 601.5h2M67 602.5h2M89 602.5h2M92 602.5h1M682 602.5h1M685 602.5h3M721 602.5h2M867 602.5h1M69 603.5h2M88 603.5h1M93 603.5h1M115 603.5h13M681 603.5h1M688 603.5h2M696 603.5h6M719 603.5h2M868.5 603v2M71 604.5h2M86 604.5h2M94 604.5h1M114 604.5h1M128 604.5h4M680 604.5h1M690 604.5h6M702 604.5h4M717 604.5h2M73 605.5h2M84 605.5h2M95.5 605v2M113 605.5h1M132 605.5h1M679 605.5h1M706 605.5h11M869.5 605v2M75 606.5h9M112 606.5h1M133 606.5h1M419 606.5h3M678 606.5h1M96 607.5h1M111.5 607v2M134 607.5h1M417 607.5h2M422 607.5h4M677 607.5h1M870.5 607v2M97 608.5h1M135 608.5h1M415 608.5h2M426 608.5h10M676 608.5h1M98 609.5h1M110 609.5h1M136 609.5h1M413 609.5h2M436 609.5h1M675 609.5h1M871.5 609v3M99 610.5h3M109 610.5h1M137 610.5h1M403 610.5h10M437 610.5h1M674 610.5h1M955 610.5h2M102 611.5h4M108 611.5h1M138 611.5h1M402 611.5h1M438 611.5h2M475 611.5h5M673 611.5h1M953 611.5h2M957 611.5h2M970 611.5h4M986 611.5h2M106 612.5h2M139 612.5h2M400 612.5h2M440 612.5h1M473 612.5h2M480 612.5h4M672 612.5h1M872.5 612v2M912 612.5h4M951 612.5h2M959 612.5h2M968 612.5h2M974 612.5h4M982 612.5h4M988 612.5h2M1163 612.5h5M141 613.5h3M399 613.5h1M441 613.5h1M471 613.5h2M484.5 613v2M671 613.5h1M906 613.5h6M916.5 613v2M949 613.5h2M961 613.5h2M965 613.5h3M978 613.5h4M990 613.5h1M1120 613.5h16M1162 613.5h1M1168 613.5h4M144 614.5h2M398 614.5h1M442 614.5h1M469 614.5h2M670 614.5h1M873.5 614v2M902 614.5h4M946 614.5h3M963 614.5h2M991 614.5h1M1002 614.5h3M1115 614.5h5M1136 614.5h8M1160 614.5h2M146 615.5h2M396 615.5h2M443 615.5h1M467 615.5h2M485 615.5h1M669 615.5h1M898 615.5h4M917.5 615v2M944 615.5h2M992 615.5h2M1000 615.5h2M1005 615.5h2M1114 615.5h1M1144 615.5h5M1159 615.5h1M148 616.5h1M251 616.5h3M395 616.5h1M444 616.5h1M465 616.5h2M486 616.5h1M595 616.5h3M668 616.5h1M874.5 616v2M896 616.5h2M941 616.5h3M994 616.5h1M997 616.5h3M1007 616.5h2M1113 616.5h1M1149 616.5h3M1158 616.5h1M149 617.5h1M249 617.5h2M254 617.5h4M393 617.5h2M445 617.5h1M463 617.5h2M487.5 617v2M594 617.5h1M598 617.5h4M664 617.5h4M893 617.5h3M918 617.5h1M931 617.5h10M995 617.5h2M1009 617.5h2M1112 617.5h1M1152 617.5h2M1156 617.5h2M150 618.5h2M248 618.5h1M258 618.5h10M392 618.5h1M446 618.5h1M461 618.5h2M592 618.5h2M602 618.5h2M659 618.5h5M875.5 618v2M888 618.5h5M919.5 618v2M930 618.5h1M1011 618.5h2M1110 618.5h2M1154 618.5h2M152 619.5h1M246 619.5h2M268.5 619v2M390 619.5h2M447.5 619v2M459 619.5h2M488 619.5h1M591 619.5h1M604 619.5h2M657 619.5h2M876 619.5h12M929 619.5h1M1013 619.5h3M1109 619.5h1M153 620.5h1M244 620.5h2M388 620.5h2M457 620.5h2M489 620.5h1M590 620.5h1M606 620.5h2M656 620.5h1M920 620.5h1M928 620.5h1M1016 620.5h2M1108 620.5h1M154 621.5h1M240 621.5h4M269 621.5h1M386 621.5h2M448 621.5h1M456 621.5h1M490.5 621v2M571 621.5h3M588 621.5h2M608 621.5h1M618 621.5h2M654 621.5h2M921.5 621v2M927 621.5h1M1018 621.5h6M1091 621.5h1M1107 621.5h1M155 622.5h9M235 622.5h5M270 622.5h1M299 622.5h1M382 622.5h4M449 622.5h1M454 622.5h2M570 622.5h1M574 622.5h4M584 622.5h4M609 622.5h2M614 622.5h4M620 622.5h1M652 622.5h2M926 622.5h1M1024 622.5h12M1089 622.5h2M1092 622.5h2M1106 622.5h1M164 623.5h2M233 623.5h2M271.5 623v2M298 623.5h1M300 623.5h2M378 623.5h4M450 623.5h1M452 623.5h2M491 623.5h1M531 623.5h1M552 623.5h5M568 623.5h2M578 623.5h6M611 623.5h3M621 623.5h1M648 623.5h4M922.5 623v2M925 623.5h1M1036 623.5h1M1088 623.5h1M1094 623.5h1M1104 623.5h2M166 624.5h2M231 624.5h2M297 624.5h1M302 624.5h1M374 624.5h4M451 624.5h1M492 624.5h1M530 624.5h1M532 624.5h1M547 624.5h5M557 624.5h2M567 624.5h1M622 624.5h1M640 624.5h8M924 624.5h1M1037 624.5h1M1086 624.5h2M1095 624.5h1M1103 624.5h1M168 625.5h1M218 625.5h6M229 625.5h2M272 625.5h1M296 625.5h1M303 625.5h1M368 625.5h6M493 625.5h1M529 625.5h1M533 625.5h1M546 625.5h1M559 625.5h2M566 625.5h1M623 625.5h1M635 625.5h5M923 625.5h1M1038 625.5h1M1075 625.5h5M1084 625.5h2M1096 625.5h2M1102 625.5h1M169 626.5h2M214 626.5h4M224 626.5h5M273 626.5h1M282 626.5h3M295 626.5h1M304 626.5h2M314 626.5h4M347 626.5h21M494 626.5h1M515 626.5h2M528 626.5h1M534 626.5h1M545 626.5h1M561 626.5h2M564 626.5h2M624 626.5h1M633 626.5h2M1039.5 626v2M1074.5 626v2M1080 626.5h4M1098 626.5h1M1100 626.5h2M171 627.5h1M211 627.5h3M274.5 627v2M280 627.5h2M285 627.5h2M294 627.5h1M306 627.5h1M310 627.5h4M318 627.5h4M345 627.5h2M495 627.5h1M513 627.5h2M517 627.5h2M526 627.5h2M535.5 627v2M544 627.5h1M563 627.5h1M625 627.5h1M631 627.5h2M1099 627.5h1M172 628.5h1M210 628.5h1M277 628.5h3M287 628.5h2M293 628.5h1M307 628.5h3M322 628.5h4M344 628.5h1M496 628.5h1M512 628.5h1M519 628.5h2M525 628.5h1M543 628.5h1M626 628.5h1M629 628.5h2M1040 628.5h1M1073.5 628v2M173 629.5h1M187 629.5h2M209 629.5h1M275 629.5h2M289 629.5h2M292 629.5h1M326 629.5h4M342 629.5h2M497 629.5h1M510 629.5h2M521 629.5h2M524 629.5h1M536 629.5h1M542 629.5h1M627 629.5h2M1041 629.5h1M174 630.5h1M186 630.5h1M189 630.5h2M208 630.5h1M291 630.5h1M330 630.5h6M340 630.5h2M498 630.5h1M508 630.5h2M523 630.5h1M537 630.5h1M541 630.5h1M1042 630.5h1M1072.5 630v2M175.5 631v2M185 631.5h1M191 631.5h2M207.5 631v2M336 631.5h4M499 631.5h9M538 631.5h1M540 631.5h1M1043 631.5h2M184 632.5h1M193 632.5h2M539 632.5h1M1045 632.5h3M1071.5 632v2M176 633.5h1M182 633.5h2M195 633.5h2M206 633.5h1M1048 633.5h2M177 634.5h1M181 634.5h1M197 634.5h3M205 634.5h1M1050 634.5h3M1070.5 634v2M178 635.5h1M180 635.5h1M200 635.5h2M204 635.5h1M1053 635.5h2M179 636.5h1M202 636.5h2M1055 636.5h2M1069.5 636v2M1057 637.5h2M1059 638.5h2M1068.5 638v2M1061 639.5h3M1064 640.5h2M1067.5 640v2M1066 641.5h1" fill="none" stroke="#1e90ff" stroke-width="1"/>
</g>
<g shape-rendering="crispEdges" fill="#000">
<rect x="2" y="6" width="1189" height="1"/>
<rect x="2" y="434" width="1189" height="1"/>
<rect x="2" y="6" width="1" height="429"/>
<rect x="1190" y="6" width="1" height="429"/>
<rect x="2" y="436" width="1189" height="1"/>
<rect x="2" y="551" width="1189" height="1"/>
<rect x="2" y="436" width="1" height="116"/>
<rect x="1190" y="436" width="1" height="116"/>
<rect x="2" y="553" width="1189" height="1"/>
<rect x="2" y="671" width="1189" height="1"/>
<rect x="2" y="553" width="1" height="119"/>
<rect x="1190" y="553" width="1" height="119"/>
<rect x="1191" y="35" width="2" height="1"/>
<rect x="1191" y="68" width="2" height="1"/>
<rect x="1191" y="101" width="2" height="1"/>
<rect x="1191" y="134" width="2" height="1"/>
<rect x="1191" y="167" width="2" height="1"/>
<rect x="1191" y="200" width="2" height="1"/>
<rect x="1191" y="233" width="2" height="1"/>
<rect x="1191" y="266" width="2" height="1"/>
<rect x="1191" y="299" width="2" height="1"/>
<rect x="1191" y="332" width="2" height="1"/>
<rect x="1191" y="398" width="2" height="1"/>
<rect x="1191" y="431" width="2" height="1"/>
<rect x="1191" y="365" width="2" height="1"/>
<rect x="1191" y="502" width="1" height="1"/>
<rect x="1191" y="437" width="1" height="1"/>
<rect x="1191" y="550" width="1" height="1"/>
<rect x="1191" y="554" width="1" height="1"/>
<rect x="1191" y="670" width="1" height="1"/>
<rect x="3" y="672" width="1" height="3"/>
<rect x="67" y="672" width="1" height="3"/>
<rect x="131" y="672" width="1" height="3"/>
<rect x="195" y="672" width="1" height="3"/>
<rect x="259" y="672" width="1" height="3"/>
<rect x="323" y="672" width="1" height="3"/>
<rect x="387" y="672" width="1" height="3"/>
<rect x="451" y="672" width="1" height="3"/>
<rect x="515" y="672" width="1" height="3"/>
<rect x="579" y="672" width="1" height="3"/>
<rect x="643" y="672" width="1" height="3"/>
<rect x="707" y="672" width="1" height="3"/>
<rect x="771" y="672" width="1" height="3"/>
<rect x="835" y="672" width="1" height="3"/>
<rect x="899" y="672" width="1" height="3"/>
<rect x="963" y="672" width="1" height="3"/>
<rect x="1027" y="672" width="1" height="3"/>
<rect x="1091" y="672" width="1" height="3"/>
<rect x="1155" y="672" width="1" height="3"/>
</g>
<g shape-rendering="crispEdges">
<rect x="2" y="82" width="1189" height="2" fill="#ff0000"/>
<rect x="2" y="188" width="1189" height="2" fill="#ff0000"/>
<rect x="2" y="279" width="1189" height="2" fill="#ff0000"/>
<rect x="2" y="363" width="1189" height="2" fill="#00d000"/>
</g>
<g shape-rendering="crispEdges" fill="#000"><rect x="6" y="13" width="7" height="1"/><rect x="7" y="14" width="5" height="1"/><rect x="8" y="15" width="3" height="1"/><rect x="9" y="16" width="1" height="1"/></g>
<g shape-rendering="crispEdges">
<rect x="1193" y="77" width="39" height="11" fill="#ff0000"/>
<rect x="1193" y="183" width="39" height="11" fill="#ff0000"/>
<rect x="1193" y="274" width="39" height="11" fill="#ff0000"/>
<rect x="1193" y="358" width="39" height="11" fill="#00d000"/>
<rect x="1193" y="309" width="39" height="11" fill="#000"/>
</g>
<text x="1196.1" y="39" textLength="32.4" lengthAdjust="spacingAndGlyphs">123.205</text>
<text x="1196.1" y="72" textLength="32.4" lengthAdjust="spacingAndGlyphs">120.995</text>
<text x="1196.1" y="105" textLength="32.4" lengthAdjust="spacingAndGlyphs">118.850</text>
<text x="1196.1" y="138" textLength="32.4" lengthAdjust="spacingAndGlyphs">116.640</text>
<text x="1196.1" y="171" textLength="32.4" lengthAdjust="spacingAndGlyphs">114.495</text>
<text x="1196.1" y="204" textLength="32.4" lengthAdjust="spacingAndGlyphs">112.285</text>
<text x="1196.1" y="237" textLength="32.4" lengthAdjust="spacingAndGlyphs">110.140</text>
<text x="1196.1" y="270" textLength="32.4" lengthAdjust="spacingAndGlyphs">107.930</text>
<text x="1196.1" y="303" textLength="32.4" lengthAdjust="spacingAndGlyphs">105.785</text>
<text x="1196.1" y="336" textLength="32.4" lengthAdjust="spacingAndGlyphs">103.575</text>
<text x="1195.7" y="402" textLength="27.8" lengthAdjust="spacingAndGlyphs">99.220</text>
<text x="1195.7" y="435" textLength="27.8" lengthAdjust="spacingAndGlyphs">97.075</text>
<text class="w" x="1196.1" y="86" textLength="32.4" lengthAdjust="spacingAndGlyphs">120.000</text>
<text class="w" x="1196.1" y="192" textLength="32.4" lengthAdjust="spacingAndGlyphs">113.000</text>
<text class="w" x="1196.1" y="283" textLength="32.4" lengthAdjust="spacingAndGlyphs">107.000</text>
<text class="w" x="1196.1" y="367" textLength="32.4" lengthAdjust="spacingAndGlyphs">101.500</text>
<text class="w" x="1196.1" y="318" textLength="32.4" lengthAdjust="spacingAndGlyphs">104.762</text>
<text x="1193.6" y="447" textLength="27.8" lengthAdjust="spacingAndGlyphs">3.6741</text>
<text x="1193.7" y="506" textLength="18.0" lengthAdjust="spacingAndGlyphs">0.00</text>
<text x="1193.8" y="548" textLength="31.3" lengthAdjust="spacingAndGlyphs">-2.7984</text>
<text x="1194.8" y="564" textLength="13.6" lengthAdjust="spacingAndGlyphs">100</text>
<text x="1192.7" y="593" textLength="9.9" lengthAdjust="spacingAndGlyphs">70</text>
<text x="1192.7" y="640" textLength="9.9" lengthAdjust="spacingAndGlyphs">30</text>
<text x="1194.1" y="668" textLength="4.3" lengthAdjust="spacingAndGlyphs">0</text>
<text x="17.2" y="18" textLength="43.9" lengthAdjust="spacingAndGlyphs">UKOil-,H4</text>
<text x="67.6" y="18" textLength="32.4" lengthAdjust="spacingAndGlyphs">104.934</text>
<text x="103.2" y="18" textLength="32.4" lengthAdjust="spacingAndGlyphs">105.009</text>
<text x="139.1" y="18" textLength="32.6" lengthAdjust="spacingAndGlyphs">104.667</text>
<text x="174.9" y="18" textLength="32.7" lengthAdjust="spacingAndGlyphs">104.762</text>
<text x="6.3" y="449" textLength="66.5" lengthAdjust="spacingAndGlyphs">MACD(12,26,9)</text>
<text x="75.8" y="449" textLength="31.1" lengthAdjust="spacingAndGlyphs">-0.5071</text>
<text x="109.9" y="449" textLength="31.5" lengthAdjust="spacingAndGlyphs">-0.9254</text>
<text x="6.3" y="566" textLength="32.2" lengthAdjust="spacingAndGlyphs">RSI(14)</text>
<text x="41.9" y="566" textLength="32.7" lengthAdjust="spacingAndGlyphs">49.3978</text>
<text x="1.6" y="684" textLength="52.1" lengthAdjust="spacingAndGlyphs">23 Mar 2022</text>
<text x="65.6" y="684" textLength="55.0" lengthAdjust="spacingAndGlyphs">24 Mar 12:00</text>
<text x="129.6" y="684" textLength="55.0" lengthAdjust="spacingAndGlyphs">25 Mar 20:00</text>
<text x="193.6" y="684" textLength="55.0" lengthAdjust="spacingAndGlyphs">29 Mar 08:00</text>
<text x="257.6" y="684" textLength="55.0" lengthAdjust="spacingAndGlyphs">30 Mar 16:00</text>
<text x="322.6" y="684" textLength="48.0" lengthAdjust="spacingAndGlyphs">1 Apr 00:00</text>
<text x="385.6" y="684" textLength="49.0" lengthAdjust="spacingAndGlyphs">4 Apr 08:00</text>
<text x="449.6" y="684" textLength="49.0" lengthAdjust="spacingAndGlyphs">5 Apr 16:00</text>
<text x="513.6" y="684" textLength="49.0" lengthAdjust="spacingAndGlyphs">7 Apr 00:00</text>
<text x="577.6" y="684" textLength="49.0" lengthAdjust="spacingAndGlyphs">8 Apr 08:00</text>
<text x="642.6" y="684" textLength="52.9" lengthAdjust="spacingAndGlyphs">11 Apr 16:00</text>
<text x="706.6" y="684" textLength="52.9" lengthAdjust="spacingAndGlyphs">13 Apr 00:00</text>
<text x="770.6" y="684" textLength="52.9" lengthAdjust="spacingAndGlyphs">14 Apr 08:00</text>
<text x="834.6" y="684" textLength="52.9" lengthAdjust="spacingAndGlyphs">18 Apr 16:00</text>
<text x="897.6" y="684" textLength="53.9" lengthAdjust="spacingAndGlyphs">20 Apr 00:00</text>
<text x="961.6" y="684" textLength="53.9" lengthAdjust="spacingAndGlyphs">21 Apr 08:00</text>
<text x="1025.6" y="684" textLength="53.9" lengthAdjust="spacingAndGlyphs">22 Apr 16:00</text>
<text x="1089.6" y="684" textLength="53.9" lengthAdjust="spacingAndGlyphs">26 Apr 00:00</text>
<text x="1153.6" y="684" textLength="53.9" lengthAdjust="spacingAndGlyphs">27 Apr 12:00</text>
<clipPath id="c1"><rect x="440" y="100" width="280" height="40.8"/><rect x="440" y="140" width="188" height="20"/><rect x="635.0" y="140" width="4" height="6"/><rect x="670.0" y="140" width="4" height="6"/><rect x="646.6" y="140" width="12" height="6"/><rect x="679" y="140" width="30" height="6"/></clipPath>
<text class="t" clip-path="url(#c1)"><tspan x="453.6" y="144.5" style="font-size:34.8px">多空转折点</tspan><tspan x="625.9 642.6 660.9 676.3 686.7" y="144.1" style="font-size:36px;stroke:#ff0000;stroke-width:0.2px">101.5</tspan></text>
</svg></body></html>
